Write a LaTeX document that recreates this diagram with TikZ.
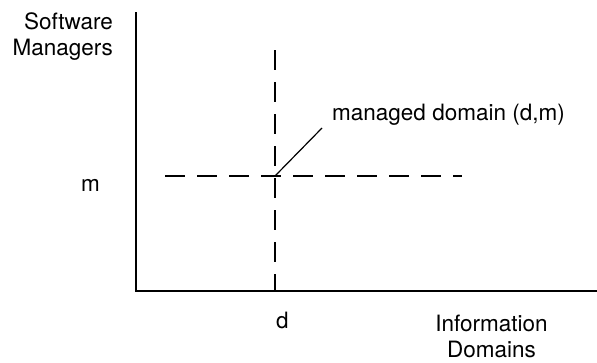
\documentclass[tikz,border=0pt]{standalone}
\usepackage{fontspec}
\setmainfont{TeX Gyre Heros}
\begin{document}
\begin{tikzpicture}[x=1pt,y=-1pt,
  axis/.style={line width=1.8pt},
  guide/.style={line width=1.4pt, dash pattern=on 20pt off 12pt},
  leader/.style={line width=1.2pt},
  lbl/.style={font=\fontsize{22.5}{26}\selectfont, inner sep=0pt}]
  \useasboundingbox (0,0) rectangle (597,362);
  % axes
  \coordinate (top) at (136,12);
  \coordinate (origin) at (136,291);
  \coordinate (right) at (597,291);
  \draw[axis] (top) -- (origin) -- (right);
  % guides through the managed domain
  \coordinate (dtop) at (275,50);
  \coordinate (dbot) at (275,291);
  \coordinate (mleft) at (165,176);
  \coordinate (mright) at (462,176);
  \draw[guide] (dtop) -- (dbot);
  \draw[guide] (mleft) -- (mright);
  \coordinate (dm) at (275,176);
  \coordinate (tip) at (322,128);
  \draw[leader] (dm) -- (tip);
  % labels
  \node[lbl, anchor=base west] (md) at (332,120) {managed domain (d,m)};
  \node[lbl, align=right, anchor=north east] (sm) at (113,12.5) {Software\\Managers};
  \node[lbl, anchor=base] (m) at (90.5,191) {m};
  \node[lbl, anchor=base] (d) at (282.5,328) {d};
  \node[lbl, align=center, anchor=north] (id) at (491.5,315) {Information\\Domains};
\end{tikzpicture}
\end{document}
